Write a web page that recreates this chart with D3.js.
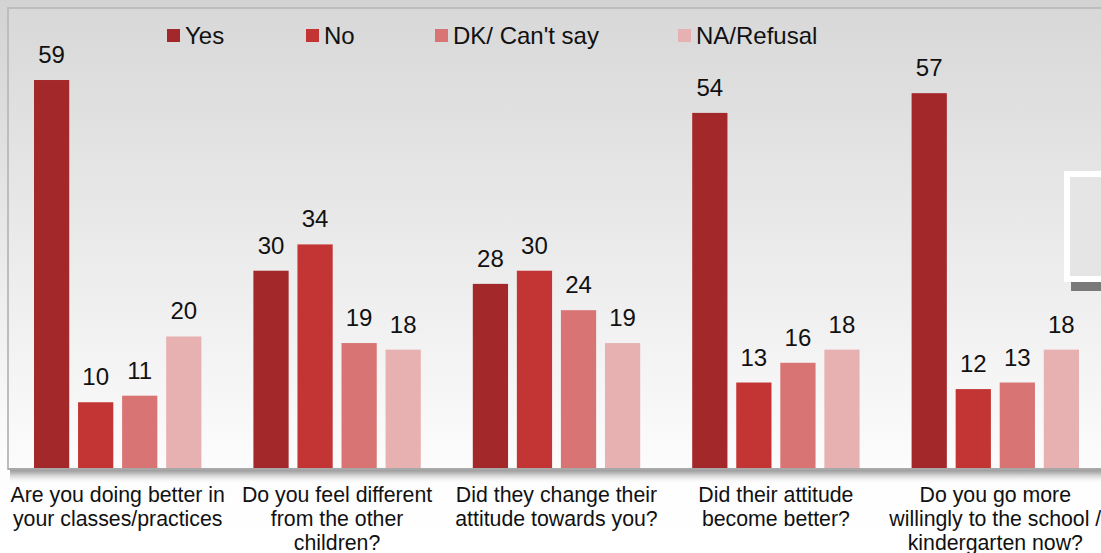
<!DOCTYPE html>
<html>
<head>
<meta charset="utf-8">
<script src="https://cdn.jsdelivr.net/npm/d3@7"></script>
<style>
  html, body { margin: 0; padding: 0; background: #fff; }
  svg { display: block; }
  text { font-family: "Liberation Sans", Arial, sans-serif; fill: #111; }
</style>
</head>
<body>
<svg id="chart" width="1101" height="553"></svg>
<script>
// Survey answers, percent of respondents
const questions = [
  ["Are you doing better in", "your classes/practices"],
  ["Do you feel different", "from the other", "children?"],
  ["Did they change their", "attitude towards you?"],
  ["Did their attitude", "become better?"],
  ["Do you go more", "willingly to the school /", "kindergarten now?"]
];
const seriesNames = ["Yes", "No", "DK/ Can't say", "NA/Refusal"];
const yesValues     = [59, 30, 28, 54, 57];
const noValues      = [10, 34, 30, 13, 12];
const dkValues      = [11, 19, 24, 16, 13];
const refusalValues = [20, 18, 19, 18, 18];
const seriesColors  = ["#a3282a", "#c33535", "#d87474", "#e7b1b1"];

const seriesValues = [yesValues, noValues, dkValues, refusalValues];
const rows = questions.map((q, i) => ({
  q: i,
  lines: q,
  values: seriesValues.map((vals, s) => ({ s, v: vals[i] }))
}));

const W = 1101, H = 553;
const svg = d3.select("#chart");
const defs = svg.append("defs");

const pageGrad = defs.append("linearGradient").attr("id", "pageGrad")
  .attr("x1", 0).attr("y1", 0).attr("x2", 0).attr("y2", 1);
pageGrad.append("stop").attr("offset", "0%").attr("stop-color", "#d3d3d3");
pageGrad.append("stop").attr("offset", "84%").attr("stop-color", "#fdfdfd");
pageGrad.append("stop").attr("offset", "100%").attr("stop-color", "#ffffff");

const plotGrad = defs.append("linearGradient").attr("id", "plotGrad")
  .attr("x1", 0).attr("y1", 0).attr("x2", 0).attr("y2", 1);
plotGrad.append("stop").attr("offset", "0%").attr("stop-color", "#d8d8d8");
plotGrad.append("stop").attr("offset", "100%").attr("stop-color", "#fdfcfd");

const shadowGrad = defs.append("linearGradient").attr("id", "shadowGrad")
  .attr("x1", 0).attr("y1", 0).attr("x2", 0).attr("y2", 1);
shadowGrad.append("stop").attr("offset", "0%").attr("stop-color", "#8a8a8a");
shadowGrad.append("stop").attr("offset", "30%").attr("stop-color", "#b5b5b5");
shadowGrad.append("stop").attr("offset", "100%").attr("stop-color", "#ffffff").attr("stop-opacity", 0);

svg.append("rect").attr("width", W).attr("height", H).attr("fill", "url(#pageGrad)");

const plot = { left: 8, top: 8, right: 1105, bottom: 468 };

// plot panel
svg.append("rect")
  .attr("x", plot.left).attr("y", plot.top)
  .attr("width", plot.right - plot.left).attr("height", plot.bottom - plot.top)
  .attr("fill", "url(#plotGrad)");

// floor shadow
svg.append("rect")
  .attr("x", plot.left + 2).attr("y", plot.bottom)
  .attr("width", plot.right - plot.left).attr("height", 16)
  .attr("fill", "url(#shadowGrad)");

// frame
svg.append("path")
  .attr("d", `M${plot.left},${plot.bottom + 2}V${plot.top}H${W}`)
  .attr("fill", "none").attr("stroke", "#bdbdbd").attr("stroke-width", 2);
svg.append("line")
  .attr("x1", plot.left).attr("x2", W)
  .attr("y1", plot.bottom + 1).attr("y2", plot.bottom + 1)
  .attr("stroke", "#a8a8a8").attr("stroke-width", 2);

const x0 = d3.scaleBand().domain(d3.range(questions.length))
  .range([plot.left, plot.right]).paddingInner(0).paddingOuter(0);
const x1 = d3.scaleBand().domain(d3.range(seriesNames.length))
  .range([26, x0.bandwidth() - 26]).paddingInner(0.2).paddingOuter(0);
const y = d3.scaleLinear().domain([0, 60]).range([plot.bottom, plot.bottom - 60 * 6.576]);

const groups = svg.append("g").selectAll("g").data(rows).join("g")
  .attr("transform", d => `translate(${x0(d.q)},0)`);

groups.selectAll("rect").data(d => d.values).join("rect")
  .attr("x", d => x1(d.s))
  .attr("width", x1.bandwidth())
  .attr("y", d => y(d.v))
  .attr("height", d => y(0) - y(d.v))
  .attr("fill", d => seriesColors[d.s]);

groups.selectAll("text.val").data(d => d.values).join("text")
  .attr("class", "val")
  .attr("x", d => x1(d.s) + x1.bandwidth() / 2)
  .attr("y", d => y(d.v) - 17)
  .attr("text-anchor", "middle")
  .style("font-size", "24px")
  .text(d => d.v);

// category labels
groups.append("text")
  .attr("text-anchor", "middle")
  .style("font-size", "21.3px")
  .selectAll("tspan").data(d => d.lines).join("tspan")
  .attr("x", x0.bandwidth() / 2)
  .attr("y", (d, i) => 502 + i * 24)
  .text(d => d);

// legend
const legendX = [167, 306, 435, 678];
const legend = svg.append("g").selectAll("g").data(seriesNames).join("g")
  .attr("transform", (d, i) => `translate(${legendX[i]},29)`);
legend.append("rect").attr("width", 13).attr("height", 13)
  .attr("fill", (d, i) => seriesColors[i]);
legend.append("text").attr("x", 18).attr("y", 15)
  .style("font-size", "24px").text(d => d);

// inset frame partly visible at the right edge
svg.append("rect").attr("x", 1067).attr("y", 174).attr("width", 60).attr("height", 105)
  .attr("fill", "#e5e5e5").attr("stroke", "#ffffff").attr("stroke-width", 6);
svg.append("rect").attr("x", 1071).attr("y", 282).attr("width", 40).attr("height", 9)
  .attr("fill", "#7a7a7a");
</script>
</body>
</html>
